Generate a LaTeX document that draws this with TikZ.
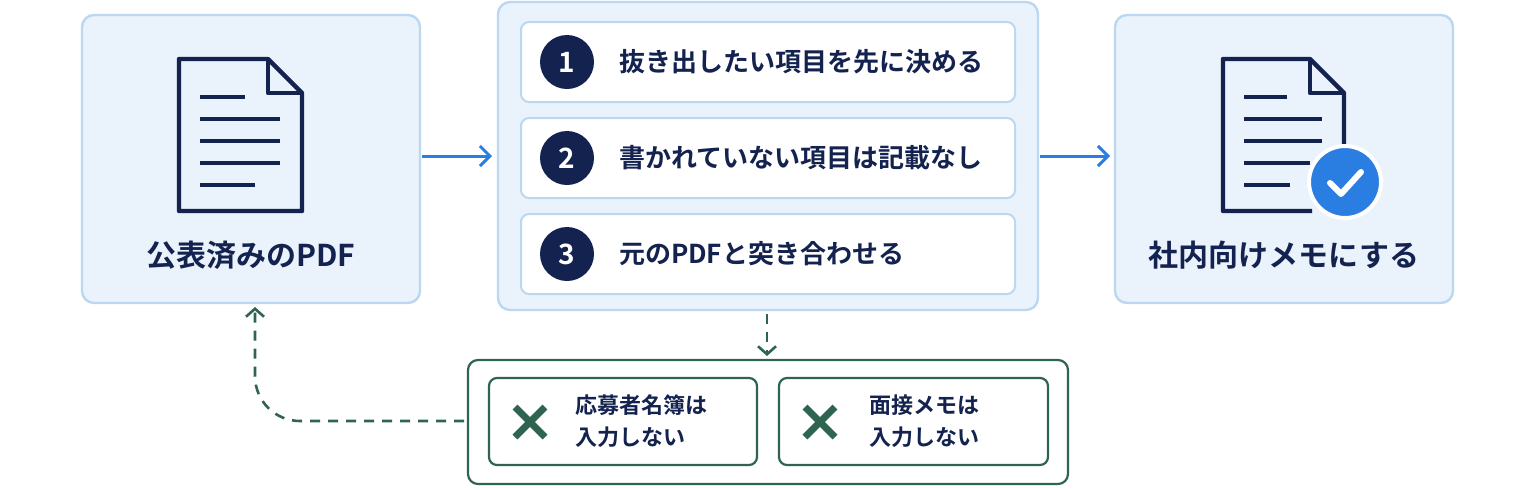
\documentclass[tikz,border=0pt]{standalone}
\usepackage{fontspec}
\setmainfont{Noto Sans CJK JP}[BoldFont={* Bold}]
\usetikzlibrary{arrows.meta}
\definecolor{pane}{HTML}{EAF2FB}
\definecolor{paneb}{HTML}{BCD7F1}
\definecolor{navy}{HTML}{13224F}
\definecolor{blu}{HTML}{2A7DE1}
\definecolor{grn}{HTML}{2E6450}
\begin{document}
\begin{tikzpicture}[x=0.5pt,y=-0.5pt,
 pane/.style={draw=paneb,fill=pane,line width=1.2pt,rounded corners=6pt},
 row/.style={draw=paneb,fill=white,line width=1pt,rounded corners=4pt},
 gbox/.style={draw=grn,fill=white,line width=1.1pt,rounded corners=5pt},
 num/.style={circle,fill=navy,text=white,minimum size=27pt,inner sep=0pt,font=\bfseries\fontsize{14}{14}\selectfont},
 lbl/.style={anchor=west,text=navy,font=\bfseries\fontsize{13}{15}\selectfont},
 big/.style={text=navy,font=\bfseries\fontsize{15}{17}\selectfont},
 small/.style={anchor=west,text=navy,align=left,font=\bfseries\fontsize{11}{16}\selectfont},
 arr/.style={blu,line width=1.5pt,-{Straight Barb[length=5pt,width=10pt,line width=1.5pt]}},
 darr/.style={grn,line width=1.3pt,dashed,dash pattern=on 5pt off 4pt,-{Straight Barb[length=4pt,width=9pt,line width=1.3pt]}},
 doc/.style={navy,line width=2.2pt,line join=round}]
\useasboundingbox (0,0) rectangle (1536,489);
\draw[pane] (82,15) rectangle (420,303);
\draw[pane] (498,2) rectangle (1038,310);
\draw[pane] (1115,15) rectangle (1453,303);
% docs
\draw[doc] (179,59) -- (268,59) -- (302,93) -- (302,211) -- (179,211) -- cycle;
\draw[doc] (268,59) -- (268,93) -- (302,93);
\foreach \y/\w in {97/245,119/280,141/280,163/280,185/255}\draw[doc] (200,\y) -- (\w,\y);
\draw[doc] (1312,211) -- (1223,211) -- (1223,59) -- (1310,59) -- (1344,93) -- (1344,150);
\draw[doc] (1310,59) -- (1310,93) -- (1344,93);
\foreach \y/\w in {97/1287,119/1322,141/1322,163/1310,185/1290}\draw[doc] (1244,\y) -- (\w,\y);
\node[circle,fill=blu,draw=white,line width=2pt,minimum size=36pt] (chk) at (1345,182) {};
\draw[white,line width=3pt,line cap=round,line join=round] (1330,183) -- (1341,194) -- (1361,172);
\node[big] (lt) at (251,255) {公表済みのPDF};
\node[big] (rt) at (1284,255) {社内向けメモにする};
% rows
\foreach \i/\y/\t in {1/62/抜き出したい項目を先に決める,2/158/書かれていない項目は記載なし,3/254/元のPDFと突き合わせる}{
 \draw[row] (521,\y-40) rectangle (1015,\y+40);
 \node[num] (n\i) at (567,\y) {\i};
 \node[lbl] (t\i) at (612,\y) {\t};}
% arrows
\coordinate (a1) at (422,156); \coordinate (a2) at (492,156);
\draw[arr] (a1) -- (a2);
\coordinate (b1) at (1040,156); \coordinate (b2) at (1110,156);
\draw[arr] (b1) -- (b2);
% bottom
\draw[gbox] (468,360) rectangle (1068,484);
\draw[gbox,rounded corners=4pt] (489,378) rectangle (757,465);
\draw[gbox,rounded corners=4pt] (779,378) rectangle (1048,465);
\foreach \x in {530,820}{
 \draw[grn,line width=3.4pt] (\x-15,407) -- ++(30,30) ++(0,-30) -- ++(-30,30);}
\node[small] (x1) at (568,421) {応募者名簿は\\入力しない};
\node[small] (x2) at (862,421) {面接メモは\\入力しない};
\coordinate (d1) at (767,314); \coordinate (d2) at (767,356);
\draw[darr] (d1) -- (d2);
\coordinate (e1) at (464,421); \coordinate (e2) at (255,307);
\draw[darr] (e1) -- (300,421) to[out=180,in=270] (255,376) -- (e2);
\end{tikzpicture}
\end{document}
